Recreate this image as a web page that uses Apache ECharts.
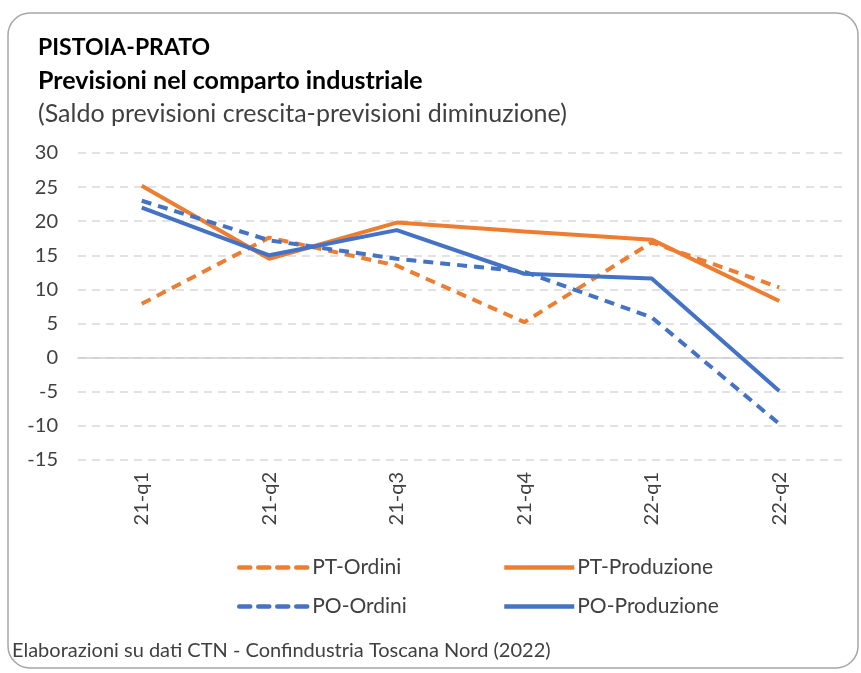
<!DOCTYPE html>
<html>
<head>
<meta charset="utf-8">
<script src="https://cdn.jsdelivr.net/npm/echarts@6/dist/echarts.min.js"></script>
<style>
  html, body { margin: 0; padding: 0; background: #fff; }
  #chart { width: 861px; height: 673px; }
</style>
</head>
<body>
<div id="chart"></div>
<script>
// dati
const quarters = ['21-q1', '21-q2', '21-q3', '21-q4', '22-q1', '22-q2'];
const ptOrdini = [7.9, 17.6, 13.5, 5.2, 16.9, 10.3];
const ptProduzione = [25.2, 14.5, 19.8, 18.5, 17.3, 8.3];
const poOrdini = [23.0, 17.2, 14.5, 12.6, 5.9, -9.7];
const poProduzione = [22.0, 15.0, 18.7, 12.3, 11.6, -4.9];

const ORANGE = '#ED7D31';
const BLUE = '#4472C4';
const FONT = 'Lato, "Open Sans", sans-serif';

const chart = echarts.init(document.getElementById('chart'));

// una legenda per voce, per tenerle in colonna
function legendAt(name, left, top, dashed) {
  return {
    data: [name],
    left: left,
    top: top,
    itemWidth: 70,
    itemHeight: 14,
    itemGap: 0,
    itemStyle: { opacity: 0 },
    lineStyle: { width: 4.5, cap: dashed ? 'round' : 'butt', type: dashed ? [11, 8] : 'solid' },
    textStyle: { fontFamily: FONT, fontSize: 21, color: '#404040', padding: [0, 0, 0, -2] }
  };
}

function lineSeries(name, data, color, dashed) {
  return {
    name: name,
    type: 'line',
    data: data,
    symbol: 'none',
    lineStyle: { color: color, width: 4, type: dashed ? [10, 7] : 'solid' },
    itemStyle: { color: color }
  };
}

chart.setOption({
  animation: false,
  graphic: [
    {
      type: 'rect',
      shape: { x: 8, y: 13, width: 850, height: 655, r: 22 },
      style: { fill: 'none', stroke: '#a6a6a6', lineWidth: 1.5 }
    },
    {
      type: 'text', left: 38, top: 36,
      style: { text: 'PISTOIA-PRATO', font: 'bold 23px ' + FONT, fill: '#000' }
    },
    {
      type: 'text', left: 38, top: 68,
      style: { text: 'Previsioni nel comparto industriale', font: 'bold 25px ' + FONT, fill: '#000' }
    },
    {
      type: 'text', left: 38, top: 101,
      style: { text: '(Saldo previsioni crescita-previsioni diminuzione)', font: '25px ' + FONT, fill: '#404040' }
    },
    {
      type: 'text', left: 12, top: 641,
      style: { text: 'Elaborazioni su dati CTN - Confindustria Toscana Nord (2022)', font: '20px ' + FONT, fill: '#404040' }
    }
  ],
  legend: [
    legendAt('PT-Ordini', 232, 552, true),
    legendAt('PT-Produzione', 497, 552, false),
    legendAt('PO-Ordini', 232, 591, true),
    legendAt('PO-Produzione', 497, 591, false)
  ],
  grid: { left: 78, right: 18, top: 153, bottom: 213 },
  xAxis: {
    type: 'category',
    data: quarters,
    axisLine: { show: true, onZero: true, lineStyle: { color: '#d0d0d0', width: 1.5 } },
    axisTick: { show: false },
    axisLabel: {
      interval: 0,
      rotate: 90,
      margin: 12,
      fontFamily: FONT,
      fontSize: 20,
      color: '#404040'
    }
  },
  yAxis: {
    type: 'value',
    min: -15,
    max: 30,
    interval: 5,
    axisLine: { show: false },
    axisTick: { show: false },
    axisLabel: { fontFamily: FONT, fontSize: 20, color: '#404040', margin: 20 },
    splitLine: { lineStyle: { color: '#d9d9d9', width: 1.5, type: [8, 6] } }
  },
  series: [
    lineSeries('PT-Ordini', ptOrdini, ORANGE, true),
    lineSeries('PT-Produzione', ptProduzione, ORANGE, false),
    lineSeries('PO-Ordini', poOrdini, BLUE, true),
    lineSeries('PO-Produzione', poProduzione, BLUE, false)
  ]
});
</script>
</body>
</html>
